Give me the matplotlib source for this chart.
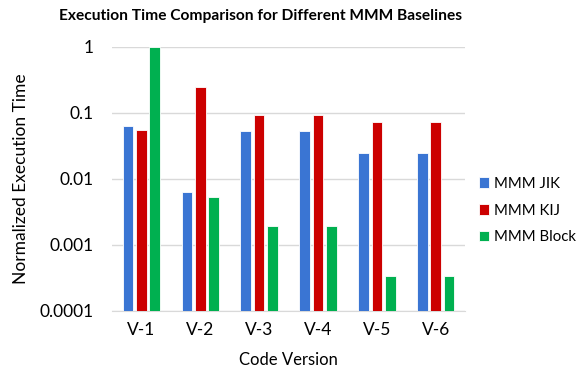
import numpy as np
import matplotlib.pyplot as plt
from matplotlib.ticker import FixedLocator, FixedFormatter, NullLocator

plt.rcParams['font.family'] = ['Lato', 'DejaVu Sans']

versions = ['V-1', 'V-2', 'V-3', 'V-4', 'V-5', 'V-6']
jik = [0.064, 0.0064, 0.053, 0.053, 0.025, 0.025]
kij = [0.055, 0.25, 0.091, 0.091, 0.073, 0.073]
block = [1.0, 0.0054, 0.0019, 0.0019, 0.00034, 0.00034]
series = [('MMM JIK', jik, '#3A75D3'), ('MMM KIJ', kij, '#CC0000'), ('MMM Block', block, '#00B050')]

fig = plt.figure(figsize=(5.83, 3.68), dpi=100)
ax = fig.add_axes([0.192, 0.155, 0.606, 0.718])

x = np.arange(len(versions))
w = 0.18
step = 0.227
for i, (name, vals, col) in enumerate(series):
    ax.bar(x + (i - 1) * step, vals, w, color=col, label=name,
           edgecolor='white', linewidth=0.6, zorder=3)

ax.set_yscale('log')
ax.set_ylim(1e-4, 1)
ax.set_xlim(-0.5, 5.5)
ticks = [1e-4, 1e-3, 1e-2, 1e-1, 1]
ax.yaxis.set_major_locator(FixedLocator(ticks))
ax.yaxis.set_major_formatter(FixedFormatter(['0.0001', '0.001', '0.01', '0.1', '1']))
ax.yaxis.set_minor_locator(NullLocator())
ax.set_xticks(x)
ax.set_xticklabels(versions)
ax.grid(axis='y', color='#D9D9D9', linewidth=1, zorder=0)
for s in ['top', 'right', 'left']:
    ax.spines[s].set_visible(False)
ax.spines['bottom'].set_color('#D9D9D9')
ax.tick_params(length=0, labelsize=12.5, colors='#000000')
ax.tick_params(axis='y', pad=13)
ax.tick_params(axis='x', pad=8)

ax.set_ylabel('Normalized Execution Time', fontsize=12.5)
ax.yaxis.set_label_coords(-0.235, 0.5)
ax.set_xlabel('Code Version', fontsize=12)
ax.xaxis.set_label_coords(0.5, -0.155)
fig.suptitle('Execution Time Comparison for Different MMM Baselines',
             fontsize=11.2, fontweight='bold', x=0.447, y=0.975)

ax.legend(loc='center left', bbox_to_anchor=(1.0, 0.38), frameon=False,
          fontsize=10.8, handlelength=0.7, handleheight=0.7, labelspacing=0.85,
          handletextpad=0.35)

fig.savefig('out.png', dpi=100)
